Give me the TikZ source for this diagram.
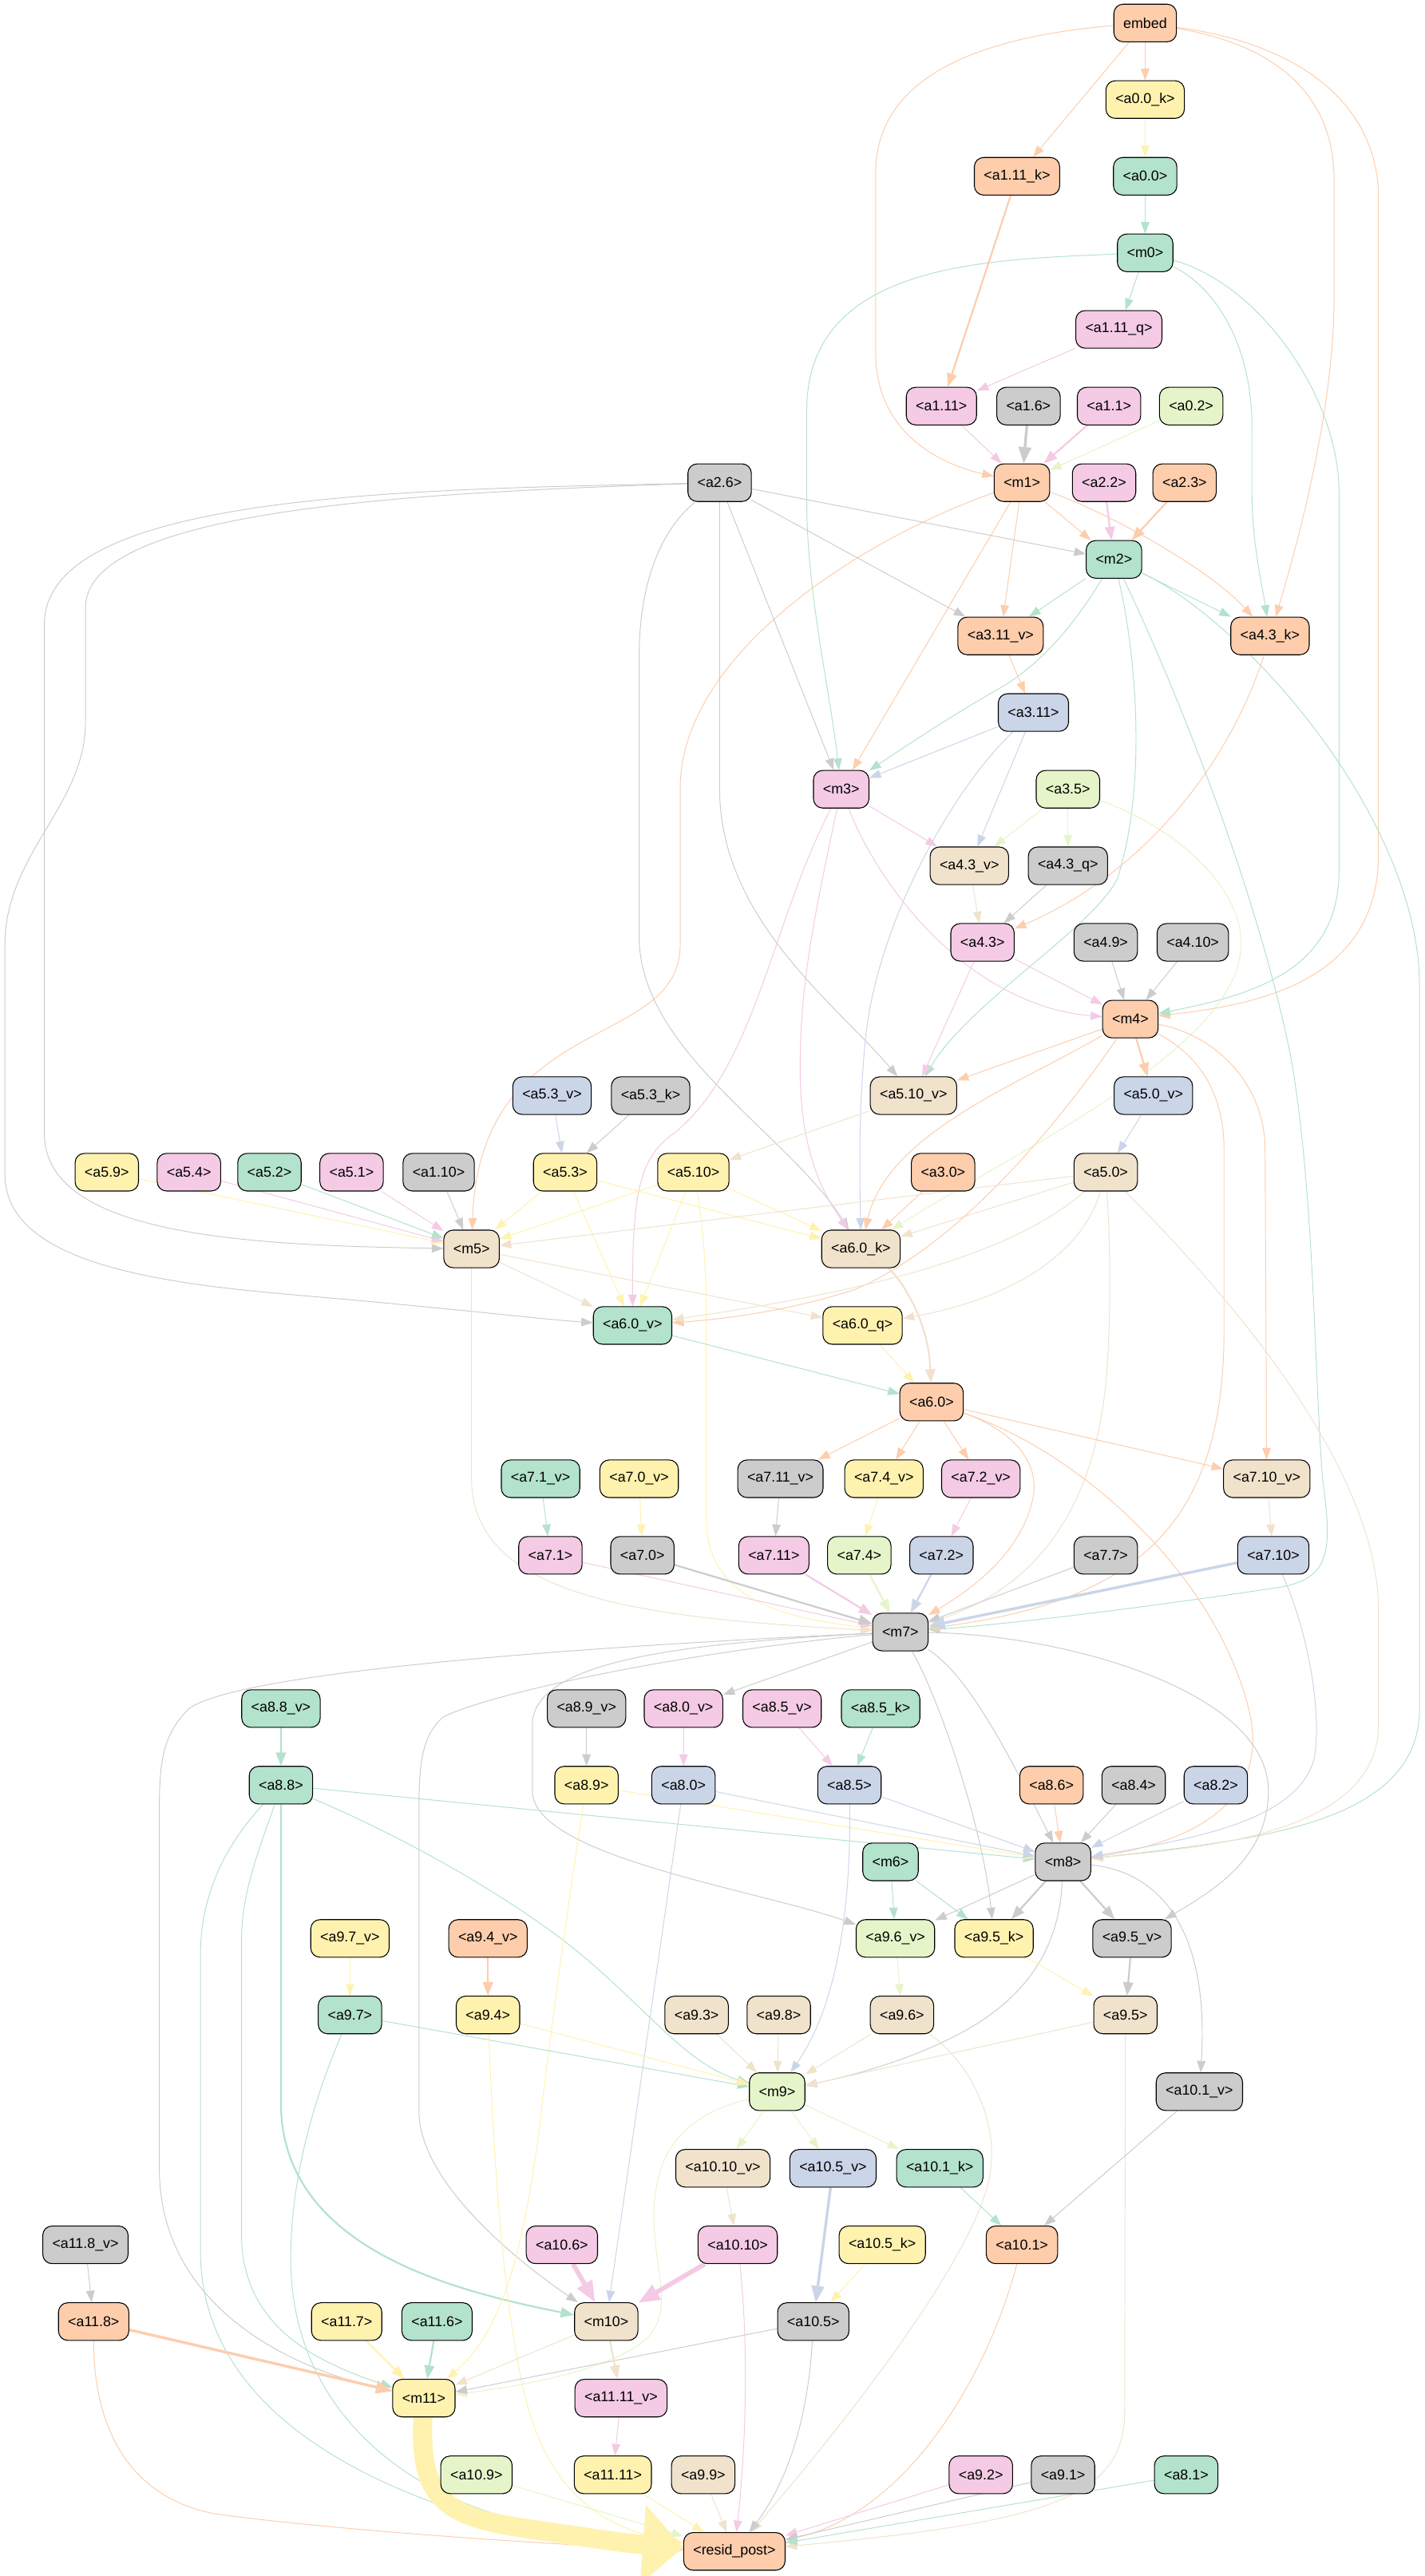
\documentclass[tikz,border=0pt]{standalone}
\usepackage{fontspec}
\setmainfont{Liberation Sans}
\usetikzlibrary{arrows.meta}
\pgfdeclarelayer{bg}
\pgfsetlayers{bg,main}
\definecolor{cG}{HTML}{B3E2CD}
\definecolor{cO}{HTML}{FDCDAC}
\definecolor{cB}{HTML}{CBD5E8}
\definecolor{cP}{HTML}{F4CAE4}
\definecolor{cL}{HTML}{E6F5C9}
\definecolor{cY}{HTML}{FFF2AE}
\definecolor{cE}{HTML}{F1E2CC}
\definecolor{cK}{HTML}{CCCCCC}
\begin{document}
\begin{tikzpicture}[x=0.03cm,y=-0.03cm,
  box/.style={draw=black,line width=0.45pt,rounded corners=0.17cm,minimum height=0.687cm,
    inner xsep=0.174cm,inner ysep=0pt,font=\fontsize{7.4}{8.9}\selectfont},
  e1/.style={draw=#1,line width=0.4pt,-{Triangle[length=6pt,width=4.4pt]}},
  e2/.style={draw=#1,line width=0.9pt,-{Triangle[length=7pt,width=5.2pt]}},
  e3/.style={draw=#1,line width=1.4pt,-{Triangle[length=8.5pt,width=6.5pt]}},
  e4/.style={draw=#1,line width=2.4pt,-{Triangle[length=11pt,width=8.5pt]}},
  e5/.style={draw=#1,line width=10pt,-{Triangle[length=21pt,width=40pt]}},
]
\useasboundingbox (0,0) rectangle (867,1568);

% ---------- nodes ----------
\node[box,fill=cO] (embed) at (697,14.0) {embed};
\node[box,fill=cY] (a0p0k) at (697,60.6) {<a0.0\_k>};
\node[box,fill=cO] (a1p11k) at (619,107.3) {<a1.11\_k>};
\node[box,fill=cG] (a0p0) at (697,107.3) {<a0.0>};
\node[box,fill=cG] (m0) at (697,153.9) {<m0>};
\node[box,fill=cP] (a1p11q) at (681,200.5) {<a1.11\_q>};
\node[box,fill=cP] (a1p11) at (573,247.2) {<a1.11>};
\node[box,fill=cK] (a1p6) at (626,247.2) {<a1.6>};
\node[box,fill=cP] (a1p1) at (675,247.2) {<a1.1>};
\node[box,fill=cL] (a0p2) at (725,247.2) {<a0.2>};
\node[box,fill=cK] (a2p6) at (438,293.8) {<a2.6>};
\node[box,fill=cO] (m1) at (622,293.8) {<m1>};
\node[box,fill=cP] (a2p2) at (672,293.8) {<a2.2>};
\node[box,fill=cO] (a2p3) at (721,293.8) {<a2.3>};
\node[box,fill=cG] (m2) at (678,340.5) {<m2>};
\node[box,fill=cO] (a3p11v) at (609,387.1) {<a3.11\_v>};
\node[box,fill=cO] (a4p3k) at (773,387.1) {<a4.3\_k>};
\node[box,fill=cB] (a3p11) at (629,433.7) {<a3.11>};
\node[box,fill=cP] (m3) at (512,480.4) {<m3>};
\node[box,fill=cL] (a3p5) at (650,480.4) {<a3.5>};
\node[box,fill=cE] (a4p3v) at (590,527.0) {<a4.3\_v>};
\node[box,fill=cK] (a4p3q) at (650,527.0) {<a4.3\_q>};
\node[box,fill=cP] (a4p3) at (598,573.6) {<a4.3>};
\node[box,fill=cK] (a4p9) at (673,573.6) {<a4.9>};
\node[box,fill=cK] (a4p10) at (726,573.6) {<a4.10>};
\node[box,fill=cO] (m4) at (688,620.3) {<m4>};
\node[box,fill=cB] (a5p3v) at (336,666.9) {<a5.3\_v>};
\node[box,fill=cK] (a5p3k) at (396,666.9) {<a5.3\_k>};
\node[box,fill=cE] (a5p10v) at (556,666.9) {<a5.10\_v>};
\node[box,fill=cB] (a5p0v) at (702,666.9) {<a5.0\_v>};
\node[box,fill=cY] (a5p9) at (65,713.5) {<a5.9>};
\node[box,fill=cP] (a5p4) at (115,713.5) {<a5.4>};
\node[box,fill=cG] (a5p2) at (164,713.5) {<a5.2>};
\node[box,fill=cP] (a5p1) at (214,713.5) {<a5.1>};
\node[box,fill=cK] (a1p10) at (267,713.5) {<a1.10>};
\node[box,fill=cY] (a5p3) at (344,713.5) {<a5.3>};
\node[box,fill=cY] (a5p10) at (422,713.5) {<a5.10>};
\node[box,fill=cO] (a3p0) at (574,713.5) {<a3.0>};
\node[box,fill=cE] (a5p0) at (673,713.5) {<a5.0>};
\node[box,fill=cE] (m5) at (287,760.2) {<m5>};
\node[box,fill=cE] (a6p0k) at (524,760.2) {<a6.0\_k>};
\node[box,fill=cG] (a6p0v) at (385,806.8) {<a6.0\_v>};
\node[box,fill=cY] (a6p0q) at (525,806.8) {<a6.0\_q>};
\node[box,fill=cO] (a6p0) at (567,853.4) {<a6.0>};
\node[box,fill=cG] (a7p1v) at (329,900.1) {<a7.1\_v>};
\node[box,fill=cY] (a7p0v) at (389,900.1) {<a7.0\_v>};
\node[box,fill=cK] (a7p11v) at (475,900.1) {<a7.11\_v>};
\node[box,fill=cY] (a7p4v) at (538,900.1) {<a7.4\_v>};
\node[box,fill=cP] (a7p2v) at (597,900.1) {<a7.2\_v>};
\node[box,fill=cE] (a7p10v) at (771,900.1) {<a7.10\_v>};
\node[box,fill=cP] (a7p1) at (335,946.7) {<a7.1>};
\node[box,fill=cK] (a7p0) at (391,946.7) {<a7.0>};
\node[box,fill=cP] (a7p11) at (471,946.7) {<a7.11>};
\node[box,fill=cL] (a7p4) at (523,946.7) {<a7.4>};
\node[box,fill=cB] (a7p2) at (573,946.7) {<a7.2>};
\node[box,fill=cK] (a7p7) at (673,946.7) {<a7.7>};
\node[box,fill=cB] (a7p10) at (775,946.7) {<a7.10>};
\node[box,fill=cK] (m7) at (548,993.4) {<m7>};
\node[box,fill=cG] (a8p8v) at (171,1040.0) {<a8.8\_v>};
\node[box,fill=cK] (a8p9v) at (357,1040.0) {<a8.9\_v>};
\node[box,fill=cP] (a8p0v) at (416,1040.0) {<a8.0\_v>};
\node[box,fill=cP] (a8p5v) at (476,1040.0) {<a8.5\_v>};
\node[box,fill=cG] (a8p5k) at (536,1040.0) {<a8.5\_k>};
\node[box,fill=cG] (a8p8) at (171,1086.6) {<a8.8>};
\node[box,fill=cY] (a8p9) at (357,1086.6) {<a8.9>};
\node[box,fill=cB] (a8p0) at (416,1086.6) {<a8.0>};
\node[box,fill=cB] (a8p5) at (517,1086.6) {<a8.5>};
\node[box,fill=cO] (a8p6) at (640,1086.6) {<a8.6>};
\node[box,fill=cK] (a8p4) at (690,1086.6) {<a8.4>};
\node[box,fill=cB] (a8p2) at (740,1086.6) {<a8.2>};
\node[box,fill=cG] (m6) at (542,1133.3) {<m6>};
\node[box,fill=cK] (m8) at (647,1133.3) {<m8>};
\node[box,fill=cY] (a9p7v) at (213,1179.9) {<a9.7\_v>};
\node[box,fill=cO] (a9p4v) at (297,1179.9) {<a9.4\_v>};
\node[box,fill=cL] (a9p6v) at (545,1179.9) {<a9.6\_v>};
\node[box,fill=cY] (a9p5k) at (605,1179.9) {<a9.5\_k>};
\node[box,fill=cK] (a9p5v) at (689,1179.9) {<a9.5\_v>};
\node[box,fill=cG] (a9p7) at (213,1226.5) {<a9.7>};
\node[box,fill=cY] (a9p4) at (297,1226.5) {<a9.4>};
\node[box,fill=cE] (a9p3) at (424,1226.5) {<a9.3>};
\node[box,fill=cE] (a9p8) at (474,1226.5) {<a9.8>};
\node[box,fill=cE] (a9p6) at (549,1226.5) {<a9.6>};
\node[box,fill=cE] (a9p5) at (685,1226.5) {<a9.5>};
\node[box,fill=cL] (m9) at (473,1273.2) {<m9>};
\node[box,fill=cK] (a10p1v) at (730,1273.2) {<a10.1\_v>};
\node[box,fill=cE] (a10p10v) at (440,1319.8) {<a10.10\_v>};
\node[box,fill=cB] (a10p5v) at (507,1319.8) {<a10.5\_v>};
\node[box,fill=cG] (a10p1k) at (572,1319.8) {<a10.1\_k>};
\node[box,fill=cK] (a11p8v) at (52,1366.4) {<a11.8\_v>};
\node[box,fill=cP] (a10p6) at (342,1366.4) {<a10.6>};
\node[box,fill=cP] (a10p10) at (449,1366.4) {<a10.10>};
\node[box,fill=cY] (a10p5k) at (537,1366.4) {<a10.5\_k>};
\node[box,fill=cO] (a10p1) at (622,1366.4) {<a10.1>};
\node[box,fill=cO] (a11p8) at (57,1413.1) {<a11.8>};
\node[box,fill=cY] (a11p7) at (211,1413.1) {<a11.7>};
\node[box,fill=cG] (a11p6) at (266,1413.1) {<a11.6>};
\node[box,fill=cE] (m10) at (369,1413.1) {<m10>};
\node[box,fill=cK] (a10p5) at (495,1413.1) {<a10.5>};
\node[box,fill=cY] (m11) at (258,1459.7) {<m11>};
\node[box,fill=cP] (a11p11v) at (378,1459.7) {<a11.11\_v>};
\node[box,fill=cL] (a10p9) at (290,1506.4) {<a10.9>};
\node[box,fill=cY] (a11p11) at (373,1506.4) {<a11.11>};
\node[box,fill=cE] (a9p9) at (428,1506.4) {<a9.9>};
\node[box,fill=cP] (a9p2) at (597,1506.4) {<a9.2>};
\node[box,fill=cK] (a9p1) at (647,1506.4) {<a9.1>};
\node[box,fill=cG] (a8p1) at (722,1506.4) {<a8.1>};
\node[box,fill=cO] (resid) at (447,1553.0) {<resid\_post>};

% ---------- connectors (behind the boxes) ----------
\begin{pgfonlayer}{bg}
\fill[white] (0,0) rectangle (867,1568);

% embed
\draw[e1=cO] (embed) -- (a0p0k);
\draw[e1=cO] (embed) -- (a1p11k);
\draw[e1=cO] (embed) .. controls (600,22) and (533,45) .. (533,105) -- (533,215) .. controls (533,262) and (570,282) .. (m1);
\draw[e1=cO] (embed) .. controls (780,28) and (812,60) .. (812,110) -- (812,180) .. controls (812,250) and (790,330) .. (a4p3k);
\draw[e1=cO] (embed) .. controls (800,28) and (839,70) .. (839,120) -- (839,520) .. controls (839,600) and (760,612) .. (m4);

% layer 0
\draw[e1=cY] (a0p0k) -- (a0p0);
\draw[e1=cG] (a0p0) -- (m0);
\draw[e1=cG] (m0) -- (a1p11q);
\draw[e1=cG] (m0) .. controls (600,158) and (491,160) .. (491,250) -- (491,305) .. controls (491,360) and (505,420) .. (m3);
\draw[e1=cG] (m0) .. controls (740,175) and (762,210) .. (762,260) -- (762,300) .. controls (762,330) and (768,355) .. (a4p3k);
\draw[e1=cG] (m0) .. controls (765,172) and (815,240) .. (815,300) -- (815,530) .. controls (815,592) and (760,606) .. (m4);

% layer 1
\draw[e2=cO] (a1p11k) -- (a1p11);
\draw[e1=cP] (a1p11q) -- (a1p11);
\draw[e1=cP] (a1p11) -- (m1);
\draw[e3=cK] (a1p6) -- (m1);
\draw[e2=cP] (a1p1) -- (m1);
\draw[e1=cL] (a0p2) -- (m1);
\draw[e1=cO] (m1) -- (m2);
\draw[e1=cO] (m1) -- (a3p11v);
\draw[e1=cO] (m1) .. controls (670,310) and (735,345) .. (a4p3k);
\draw[e1=cO] (m1) -- (m3);
\draw[e1=cO] (m1) .. controls (520,330) and (414,400) .. (414,480) -- (414,575) .. controls (414,640) and (292,615) .. (m5);

% layer 2
\draw[e2=cP] (a2p2) -- (m2);
\draw[e2=cO] (a2p3) -- (m2);
\draw[e1=cK] (a2p6) -- (m2);
\draw[e1=cK] (a2p6) -- (a3p11v);
\draw[e1=cK] (a2p6) -- (m3);
\draw[e1=cK] (a2p6) -- (438,480) .. controls (438,560) and (510,612) .. (a5p10v);
\draw[e1=cK] (a2p6) .. controls (405,320) and (389,350) .. (389,400) -- (389,570) .. controls (389,640) and (480,690) .. (a6p0k);
\draw[e1=cK] (a2p6) .. controls (250,298) and (27,300) .. (27,380) -- (27,690) .. controls (27,752) and (150,758) .. (m5);
\draw[e1=cK] (a2p6) .. controls (250,300) and (52,310) .. (52,370) -- (52,440) .. controls (52,490) and (3,520) .. (3,575) -- (3,715) .. controls (3,775) and (120,783) .. (200,790) .. controls (280,797) and (330,803) .. (a6p0v);
\draw[e1=cG] (m2) -- (a3p11v);
\draw[e1=cG] (m2) -- (a4p3k);
\draw[e1=cG] (m2) .. controls (660,370) and (640,400) .. (610,418) .. controls (580,435) and (550,455) .. (m3);
\draw[e1=cG] (m2) .. controls (692,400) and (698,480) .. (680,535) .. controls (665,565) and (590,610) .. (a5p10v);
\draw[e1=cG] (m2) .. controls (700,385) and (760,520) .. (785,640) .. controls (800,720) and (800,840) .. (805,900) .. controls (810,940) and (812,960) .. (780,966) .. controls (700,978) and (620,988) .. (m7);
\draw[e1=cG] (m2) .. controls (760,380) and (864,500) .. (864,600) -- (864,1040) .. controls (864,1112) and (760,1120) .. (m8);

% layer 3
\draw[e1=cO] (a3p11v) -- (a3p11);
\draw[e1=cB] (a3p11) -- (m3);
\draw[e1=cB] (a3p11) -- (a4p3v);
\draw[e1=cB] (a3p11) .. controls (580,480) and (535,560) .. (527,630) .. controls (523,670) and (523,700) .. (a6p0k);
\draw[e1=cL] (a3p5) -- (a4p3v);
\draw[e1=cL] (a3p5) -- (a4p3q);
\draw[e1=cL] (a3p5) .. controls (720,505) and (760,545) .. (755,580) .. controls (748,640) and (620,700) .. (a6p0k);
\draw[e1=cP] (m3) -- (a4p3v);
\draw[e1=cP] (m3) .. controls (535,540) and (590,612) .. (m4);
\draw[e1=cP] (m3) .. controls (470,560) and (460,650) .. (410,690) .. controls (388,705) and (385,730) .. (a6p0v);
\draw[e1=cP] (m3) .. controls (495,560) and (487,600) .. (487,650) .. controls (487,700) and (500,725) .. (a6p0k);

% layer 4
\draw[e1=cO] (a4p3k) .. controls (750,460) and (700,530) .. (a4p3);
\draw[e1=cE] (a4p3v) -- (a4p3);
\draw[e1=cK] (a4p3q) -- (a4p3);
\draw[e1=cP] (a4p3) -- (m4);
\draw[e1=cP] (a4p3) -- (a5p10v);
\draw[e1=cK] (a4p9) -- (m4);
\draw[e1=cK] (a4p10) -- (m4);
\draw[e2=cO] (m4) -- (a5p0v);
\draw[e1=cO] (m4) -- (a5p10v);
\draw[e1=cO] (m4) .. controls (620,660) and (540,690) .. (a6p0k);
\draw[e1=cO] (m4) .. controls (640,690) and (580,760) .. (520,785) .. controls (480,798) and (440,803) .. (a6p0v);
\draw[e1=cO] (m4) .. controls (740,630) and (770,660) .. (770,700) -- (a7p10v);
\draw[e1=cO] (m4) .. controls (725,640) and (745,660) .. (745,700) -- (745,810) .. controls (745,930) and (690,975) .. (m7);

% layer 5
\draw[e1=cB] (a5p3v) -- (a5p3);
\draw[e1=cK] (a5p3k) -- (a5p3);
\draw[e1=cE] (a5p10v) -- (a5p10);
\draw[e1=cB] (a5p0v) -- (a5p0);
\draw[e1=cY] (a5p9) -- (m5);
\draw[e1=cP] (a5p4) -- (m5);
\draw[e1=cG] (a5p2) -- (m5);
\draw[e1=cP] (a5p1) -- (m5);
\draw[e1=cK] (a1p10) -- (m5);
\draw[e1=cY] (a5p3) -- (m5);
\draw[e1=cY] (a5p3) -- (a6p0k);
\draw[e1=cY] (a5p3) -- (a6p0v);
\draw[e1=cY] (a5p10) -- (m5);
\draw[e1=cY] (a5p10) -- (a6p0k);
\draw[e1=cY] (a5p10) -- (a6p0v);
\draw[e1=cY] (a5p10) .. controls (427,740) and (430,770) .. (430,800) -- (430,925) .. controls (430,975) and (480,985) .. (m7);
\draw[e1=cO] (a3p0) -- (a6p0k);
\draw[e1=cE] (a5p0) -- (m5);
\draw[e1=cE] (a5p0) -- (a6p0k);
\draw[e1=cE] (a5p0) .. controls (610,770) and (500,790) .. (a6p0v);
\draw[e1=cE] (a5p0) .. controls (660,760) and (620,790) .. (a6p0q);
\draw[e1=cE] (a5p0) .. controls (676,760) and (676,800) .. (674,830) .. controls (668,930) and (620,970) .. (m7);
\draw[e1=cE] (a5p0) .. controls (760,800) and (839,900) .. (839,980) -- (839,1050) .. controls (839,1120) and (720,1125) .. (m8);
\draw[e1=cE] (m5) -- (a6p0v);
\draw[e1=cE] (m5) -- (a6p0q);
\draw[e1=cE] (m5) -- (287,900) .. controls (287,975) and (400,985) .. (m7);

% layer 6
\draw[e2=cE] (a6p0k) .. controls (545,775) and (565,800) .. (a6p0);
\draw[e1=cG] (a6p0v) -- (a6p0);
\draw[e1=cY] (a6p0q) -- (a6p0);
\draw[e1=cO] (a6p0) -- (a7p11v);
\draw[e1=cO] (a6p0) -- (a7p4v);
\draw[e1=cO] (a6p0) -- (a7p2v);
\draw[e1=cO] (a6p0) -- (a7p10v);
\draw[e1=cO] (a6p0) .. controls (615,870) and (635,890) .. (628,915) .. controls (620,945) and (595,965) .. (m7);
\draw[e1=cO] (a6p0) .. controls (660,885) and (740,960) .. (760,1040) .. controls (775,1100) and (720,1122) .. (m8);

% layer 7
\draw[e1=cG] (a7p1v) -- (a7p1);
\draw[e1=cY] (a7p0v) -- (a7p0);
\draw[e1=cK] (a7p11v) -- (a7p11);
\draw[e1=cY] (a7p4v) -- (a7p4);
\draw[e1=cP] (a7p2v) -- (a7p2);
\draw[e1=cE] (a7p10v) -- (a7p10);
\draw[e1=cP] (a7p1) -- (m7);
\draw[e2=cK] (a7p0) -- (m7);
\draw[e2=cP] (a7p11) -- (m7);
\draw[e2=cL] (a7p4) -- (m7);
\draw[e2=cB] (a7p2) -- (m7);
\draw[e1=cK] (a7p7) -- (m7);
\draw[e3=cB] (a7p10) -- (m7);
\draw[e1=cB] (a7p10) .. controls (795,990) and (805,1040) .. (800,1070) .. controls (790,1110) and (720,1120) .. (m8);
\draw[e1=cK] (m7) -- (a8p0v);
\draw[e1=cK] (m7) .. controls (590,1020) and (615,1070) .. (m8);
\draw[e1=cK] (m7) .. controls (570,1030) and (598,1110) .. (a9p5k);
\draw[e1=cK] (m7) .. controls (650,995) and (772,1030) .. (772,1090) .. controls (772,1130) and (740,1150) .. (a9p5v);
\draw[e1=cK] (m7) .. controls (420,1000) and (324,1010) .. (324,1050) -- (324,1090) .. controls (324,1130) and (460,1150) .. (a9p6v);
\draw[e1=cK] (m7) .. controls (420,1005) and (300,1030) .. (270,1045) .. controls (258,1055) and (255,1070) .. (255,1100) -- (255,1285) .. controls (255,1330) and (320,1380) .. (m10);
\draw[e1=cK] (m7) .. controls (400,1000) and (150,1015) .. (115,1040) .. controls (100,1055) and (97,1070) .. (97,1100) -- (97,1320) .. controls (97,1400) and (170,1440) .. (m11);

% layer 8
\draw[e2=cG] (a8p8v) -- (a8p8);
\draw[e1=cG] (a8p8) -- (m8);
\draw[e1=cG] (a8p8) .. controls (250,1120) and (320,1160) .. (360,1195) .. controls (400,1230) and (420,1257) .. (m9);
\draw[e2=cG] (a8p8) -- (171,1280) .. controls (171,1370) and (280,1395) .. (m10);
\draw[e1=cG] (a8p8) .. controls (160,1120) and (147,1150) .. (147,1180) -- (147,1360) .. controls (147,1420) and (200,1440) .. (m11);
\draw[e1=cG] (a8p8) .. controls (140,1120) and (122,1150) .. (122,1190) -- (122,1370) .. controls (122,1470) and (230,1515) .. (300,1535) .. controls (350,1545) and (390,1550) .. (resid);
\draw[e1=cK] (a8p9v) -- (a8p9);
\draw[e1=cY] (a8p9) -- (m8);
\draw[e1=cY] (a8p9) .. controls (350,1130) and (340,1200) .. (330,1280) .. controls (320,1370) and (305,1420) .. (m11);
\draw[e1=cP] (a8p0v) -- (a8p0);
\draw[e1=cB] (a8p0) -- (m8);
\draw[e1=cB] (a8p0) -- (m10);
\draw[e1=cP] (a8p5v) -- (a8p5);
\draw[e1=cG] (a8p5k) -- (a8p5);
\draw[e1=cB] (a8p5) -- (m8);
\draw[e1=cB] (a8p5) .. controls (518,1160) and (510,1220) .. (m9);
\draw[e1=cO] (a8p6) -- (m8);
\draw[e1=cK] (a8p4) -- (m8);
\draw[e1=cB] (a8p2) -- (m8);
\draw[e1=cG] (m6) -- (a9p6v);
\draw[e1=cG] (m6) -- (a9p5k);
\draw[e2=cK] (m8) -- (a9p5k);
\draw[e2=cK] (m8) -- (a9p5v);
\draw[e1=cK] (m8) -- (a9p6v);
\draw[e1=cK] (m8) .. controls (645,1180) and (630,1215) .. (580,1240) .. controls (550,1255) and (520,1263) .. (m9);
\draw[e1=cK] (m8) .. controls (710,1140) and (736,1180) .. (a10p1v);

% layer 9
\draw[e1=cY] (a9p7v) -- (a9p7);
\draw[e2=cO] (a9p4v) -- (a9p4);
\draw[e1=cL] (a9p6v) -- (a9p6);
\draw[e1=cY] (a9p5k) -- (a9p5);
\draw[e2=cK] (a9p5v) -- (a9p5);
\draw[e1=cG] (a9p7) -- (m9);
\draw[e1=cY] (a9p4) -- (m9);
\draw[e1=cE] (a9p3) -- (m9);
\draw[e1=cE] (a9p8) -- (m9);
\draw[e1=cE] (a9p6) -- (m9);
\draw[e1=cE] (a9p5) -- (m9);
\draw[e1=cG] (a9p7) .. controls (190,1280) and (176,1330) .. (177,1380) .. controls (180,1470) and (250,1520) .. (320,1535) .. controls (360,1543) and (390,1548) .. (resid);
\draw[e1=cY] (a9p4) .. controls (300,1300) and (305,1400) .. (320,1460) .. controls (335,1520) and (370,1540) .. (resid);
\draw[e1=cE] (a9p6) .. controls (590,1255) and (607,1290) .. (603,1320) .. controls (598,1370) and (510,1480) .. (resid);
\draw[e1=cE] (a9p5) -- (684.5,1465) .. controls (686,1520) and (640,1535) .. (resid);
\draw[e1=cL] (m9) -- (a10p10v);
\draw[e1=cL] (m9) -- (a10p5v);
\draw[e1=cL] (m9) -- (a10p1k);
\draw[e1=cL] (m9) .. controls (415,1288) and (398,1310) .. (398,1350) .. controls (398,1380) and (410,1405) .. (395,1422) .. controls (375,1442) and (320,1452) .. (m11);

% layer 10
\draw[e1=cE] (a10p10v) -- (a10p10);
\draw[e3=cB] (a10p5v) -- (a10p5);
\draw[e1=cG] (a10p1k) -- (a10p1);
\draw[e1=cY] (a10p5k) -- (a10p5);
\draw[e1=cK] (a10p1v) -- (a10p1);
\draw[e4=cP] (a10p6) -- (m10);
\draw[e4=cP] (a10p10) -- (m10);
\draw[e1=cP] (a10p10) .. controls (455,1420) and (455,1480) .. (resid);
\draw[e1=cK] (a10p5) -- (m11);
\draw[e1=cK] (a10p5) .. controls (492,1470) and (480,1510) .. (resid);
\draw[e1=cO] (a10p1) .. controls (600,1450) and (550,1530) .. (resid);
\draw[e2=cE] (m10) -- (a11p11v);
\draw[e1=cE] (m10) -- (m11);

% layer 11
\draw[e1=cP] (a11p11v) -- (a11p11);
\draw[e1=cY] (a11p11) -- (resid);
\draw[e1=cK] (a11p8v) -- (a11p8);
\draw[e3=cO] (a11p8) -- (m11);
\draw[e1=cO] (a11p8) .. controls (57,1480) and (80,1520) .. (130,1530) .. controls (200,1540) and (350,1550) .. (resid);
\draw[e2=cY] (a11p7) -- (m11);
\draw[e2=cG] (a11p6) -- (m11);
\draw[e5=cY] (m11) .. controls (255,1520) and (270,1532) .. (320,1539) .. controls (360,1545) and (380,1548) .. (resid);
\draw[e1=cL] (a10p9) -- (resid);
\draw[e1=cE] (a9p9) -- (resid);
\draw[e1=cP] (a9p2) -- (resid);
\draw[e1=cK] (a9p1) -- (resid);
\draw[e1=cG] (a8p1) -- (resid);
\end{pgfonlayer}
\end{tikzpicture}
\end{document}
